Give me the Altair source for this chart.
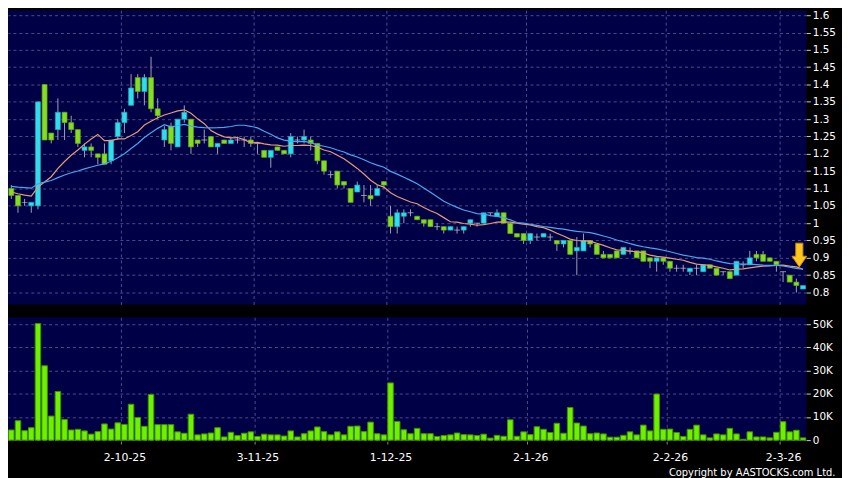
import altair as alt
import pandas as pd

# ---------------- data ----------------
opens = [1.10, 1.08, 1.06, 1.05, 1.05, 1.40, 1.26, 1.27, 1.32, 1.29,
         1.27, 1.21, 1.22, 1.20, 1.20, 1.18, 1.25, 1.29, 1.34, 1.42,
         1.38, 1.42, 1.33, 1.24, 1.28, 1.22, 1.30, 1.30, 1.24, 1.24,
         1.25, 1.22, 1.24, 1.23, 1.24, 1.24, 1.24, 1.23, 1.21, 1.19,
         1.22, 1.21, 1.20, 1.24, 1.24, 1.24, 1.23, 1.18, 1.14, 1.15,
         1.12, 1.10, 1.09, 1.08, 1.08, 1.08, 1.12, 1.02, 0.99, 1.02,
         1.03, 1.02, 1.01, 1.01, 0.99, 0.99, 0.98, 0.98, 0.98, 1.00,
         1.00, 1.00, 1.03, 1.02, 1.03, 1.00, 0.97, 0.97, 0.95, 0.96,
         0.96, 0.96, 0.95, 0.94, 0.95, 0.92, 0.92, 0.95, 0.94, 0.91,
         0.91, 0.92, 0.91, 0.92, 0.92, 0.92, 0.90, 0.89, 0.90, 0.89,
         0.87, 0.87, 0.86, 0.87, 0.86, 0.88, 0.87, 0.86, 0.86, 0.85,
         0.88, 0.88, 0.91, 0.91, 0.90, 0.89, 0.86, 0.85, 0.83, 0.81]
highs = [1.11, 1.08, 1.07, 1.06, 1.35, 1.40, 1.26, 1.36, 1.32, 1.31,
         1.27, 1.23, 1.23, 1.20, 1.23, 1.24, 1.30, 1.33, 1.43, 1.43,
         1.43, 1.48, 1.36, 1.28, 1.29, 1.30, 1.34, 1.30, 1.24, 1.27,
         1.25, 1.23, 1.24, 1.25, 1.25, 1.25, 1.25, 1.23, 1.21, 1.21,
         1.22, 1.21, 1.26, 1.25, 1.27, 1.25, 1.23, 1.18, 1.15, 1.15,
         1.12, 1.10, 1.12, 1.11, 1.11, 1.11, 1.12, 1.05, 1.04, 1.04,
         1.04, 1.02, 1.01, 1.01, 1.00, 0.99, 0.99, 0.99, 0.99, 1.01,
         1.00, 1.03, 1.03, 1.04, 1.03, 1.00, 0.97, 0.97, 0.97, 0.97,
         0.97, 0.97, 0.95, 0.95, 0.95, 0.96, 0.97, 0.95, 0.94, 0.92,
         0.91, 0.92, 0.93, 0.93, 0.92, 0.92, 0.90, 0.90, 0.90, 0.89,
         0.88, 0.88, 0.87, 0.88, 0.88, 0.88, 0.87, 0.86, 0.86, 0.89,
         0.89, 0.92, 0.92, 0.92, 0.90, 0.89, 0.86, 0.85, 0.84, 0.82]
lows = [1.07, 1.03, 1.05, 1.03, 1.04, 1.24, 1.23, 1.24, 1.24, 1.26,
        1.22, 1.19, 1.19, 1.17, 1.17, 1.17, 1.24, 1.26, 1.34, 1.36,
        1.34, 1.32, 1.30, 1.22, 1.21, 1.22, 1.29, 1.20, 1.22, 1.23,
        1.22, 1.20, 1.23, 1.23, 1.23, 1.22, 1.22, 1.20, 1.19, 1.16,
        1.21, 1.20, 1.19, 1.23, 1.23, 1.21, 1.17, 1.14, 1.13, 1.10,
        1.10, 1.06, 1.09, 1.06, 1.05, 1.08, 1.10, 0.97, 0.97, 1.00,
        1.02, 1.01, 0.99, 0.99, 0.98, 0.97, 0.98, 0.97, 0.97, 0.99,
        0.99, 1.00, 1.02, 1.02, 1.00, 0.97, 0.96, 0.94, 0.94, 0.95,
        0.96, 0.95, 0.92, 0.93, 0.91, 0.85, 0.92, 0.93, 0.91, 0.90,
        0.90, 0.90, 0.91, 0.91, 0.90, 0.89, 0.87, 0.86, 0.88, 0.86,
        0.86, 0.86, 0.85, 0.85, 0.86, 0.87, 0.85, 0.85, 0.84, 0.85,
        0.87, 0.88, 0.89, 0.89, 0.89, 0.86, 0.83, 0.83, 0.80, 0.81]
closes = [1.08, 1.05, 1.06, 1.06, 1.35, 1.24, 1.24, 1.32, 1.29, 1.27,
          1.23, 1.22, 1.21, 1.19, 1.17, 1.24, 1.29, 1.32, 1.39, 1.38,
          1.42, 1.33, 1.31, 1.27, 1.23, 1.30, 1.32, 1.22, 1.23, 1.24,
          1.22, 1.23, 1.23, 1.24, 1.24, 1.24, 1.23, 1.23, 1.19, 1.21,
          1.21, 1.20, 1.25, 1.24, 1.25, 1.23, 1.18, 1.15, 1.14, 1.11,
          1.11, 1.06, 1.11, 1.08, 1.07, 1.10, 1.11, 0.99, 1.03, 1.03,
          1.03, 1.01, 1.00, 0.99, 0.99, 0.98, 0.99, 0.98, 0.99, 1.01,
          1.00, 1.03, 1.03, 1.03, 1.00, 0.97, 0.96, 0.95, 0.97, 0.96,
          0.97, 0.96, 0.94, 0.95, 0.91, 0.93, 0.95, 0.94, 0.91, 0.90,
          0.90, 0.90, 0.93, 0.92, 0.90, 0.89, 0.89, 0.90, 0.89, 0.87,
          0.87, 0.87, 0.87, 0.87, 0.88, 0.87, 0.85, 0.86, 0.84, 0.89,
          0.88, 0.90, 0.90, 0.89, 0.89, 0.88, 0.86, 0.83, 0.82, 0.82]
volumes = [4400, 8400, 4100, 5400, 50300, 32100, 10400, 21000, 8900, 4400,
           4700, 4000, 2600, 3700, 7000, 4800, 7500, 6800, 15500, 9800,
           6000, 19700, 6700, 6700, 6700, 3600, 3000, 11200, 2300, 2700,
           3100, 5400, 1400, 3400, 2000, 3000, 3600, 1600, 2600, 2300,
           2300, 1800, 4000, 1400, 2800, 4000, 5700, 3700, 2300, 3600,
           2300, 6000, 6100, 3700, 7800, 2800, 2300, 24700, 8100, 4500,
           2800, 5100, 2800, 2800, 1600, 2000, 2300, 3100, 2400, 2300,
           2000, 2600, 900, 2100, 1700, 8800, 1700, 3600, 2400, 5800,
           4700, 3300, 7300, 3000, 14100, 7400, 6100, 2800, 3100, 2700,
           1300, 1300, 2100, 3600, 2300, 6500, 4000, 19900, 4700, 4800,
           3300, 1600, 4700, 6500, 2300, 1000, 2700, 2300, 5100, 2700,
           400, 3600, 1400, 1400, 1000, 3400, 8000, 3600, 4300, 1000]
# closes of the 19 sessions before the first one shown (estimated from where the averages start)
pre_closes = [1.09, 1.09, 1.09, 1.10, 1.14, 1.15, 1.15, 1.14, 1.14, 1.13,
              1.10, 1.10, 1.09, 1.09, 1.09, 1.09, 1.08, 1.09, 1.09]

first_day = "2025-09-08"
last_day = "2026-03-05"
holidays = ["2025-10-01", "2025-10-07", "2025-10-29", "2025-12-25", "2025-12-26",
            "2026-01-01", "2026-02-17", "2026-02-18", "2026-02-19"]
label_dates = ["2-10-25", "3-11-25", "1-12-25", "2-1-26", "2-2-26", "2-3-26"]
price_ticks = [0.8, 0.85, 0.9, 0.95, 1.0, 1.05, 1.1, 1.15, 1.2, 1.25, 1.3,
               1.35, 1.4, 1.45, 1.5, 1.55, 1.6]
volume_ticks = [0, 10000, 20000, 30000, 40000, 50000]
arrow_date = ["4-3-26"]
arrow_price = [0.908]
copyright_text = "Copyright by AASTOCKS.com Ltd."

# ---------------- build table ----------------
days = [d for d in pd.bdate_range(first_day, last_day)
        if d.strftime("%Y-%m-%d") not in holidays]
dates = [f"{d.day}-{d.month}-{d.strftime('%y')}" for d in days][:len(closes)]

series = pd.Series(pre_closes + closes)
ma10 = series.rolling(10).mean().iloc[len(pre_closes):].round(4).tolist()
ma20 = series.rolling(20).mean().iloc[len(pre_closes):].round(4).tolist()

direction = ["up" if c > o else ("down" if c < o else "flat")
             for o, c in zip(opens, closes)]

df = pd.DataFrame({
    "idx": list(range(len(closes))),
    "date": dates,
    "open": opens, "high": highs, "low": lows, "close": closes,
    "volume": volumes, "ma10": ma10, "ma20": ma20, "dir": direction,
})
arrow_df = pd.DataFrame({"date": arrow_date, "price": arrow_price})

# ---------------- styling ----------------
NAVY = "#000046"
GRID = "#4c4c8c"
CYAN = "#33dcec"
GREEN = "#86dc22"
WICK = "#a0a0b0"
FONT = "DejaVu Sans"

x_scale = alt.Scale(domain=dates, paddingInner=0, paddingOuter=0)
top_x_axis = alt.Axis(values=label_dates, labels=False, ticks=False, domain=False,
                      grid=True, bandPosition=0, title=None)
bottom_x_axis = alt.Axis(values=label_dates, labels=True, ticks=True, tickSize=3,
                         tickOffset=0, tickColor="#888888", domain=False, grid=True,
                         bandPosition=0, labelAngle=0, labelPadding=8,
                         labelFontSize=11, title=None)


def X(axis):
    return alt.X("date:O", scale=x_scale, axis=axis)


price_scale = alt.Scale(domain=[0.7656, 1.6143], nice=False, zero=False)
price_axis = alt.Axis(orient="right", values=price_ticks, format=".2~f", grid=True,
                      domain=False, tickSize=4, tickColor="#cccccc", labelPadding=2,
                      title=None)

W = 806
base = alt.Chart(df)

wicks = base.mark_rule(color=WICK, strokeWidth=1).encode(
    x=X(top_x_axis),
    y=alt.Y("low:Q", scale=price_scale, axis=price_axis),
    y2="high:Q",
)
bodies = base.transform_filter("datum.dir != 'flat'").mark_bar(width=5, strokeWidth=0.7).encode(
    x=X(top_x_axis),
    y=alt.Y("open:Q", scale=price_scale, axis=price_axis),
    y2="close:Q",
    fill=alt.Fill("dir:N", scale=alt.Scale(domain=["up", "down"], range=[CYAN, GREEN]), legend=None),
    stroke=alt.Stroke("dir:N", scale=alt.Scale(domain=["up", "down"], range=["#1fa9b8", "#5fa814"]), legend=None),
)
doji = base.transform_filter("datum.dir == 'flat'").mark_tick(color="#c8c8d0", thickness=1, size=6).encode(
    x=X(top_x_axis),
    y=alt.Y("close:Q", scale=price_scale, axis=price_axis),
)
line10 = base.mark_line(color="#e89a74", strokeWidth=1.2).encode(
    x=X(top_x_axis),
    y=alt.Y("ma10:Q", scale=price_scale, axis=price_axis),
    order="idx:Q",
)
line20 = base.mark_line(color="#4aa6ee", strokeWidth=1.2).encode(
    x=X(top_x_axis),
    y=alt.Y("ma20:Q", scale=price_scale, axis=price_axis),
    order="idx:Q",
)
arrow_path = "M -0.3 -1 L 0.3 -1 L 0.3 0.1 L 0.62 0.1 L 0 1 L -0.62 0.1 L -0.3 0.1 Z"
arrow = alt.Chart(arrow_df).mark_point(
    shape=arrow_path, filled=True, fill="#ffc81e", stroke="#d08a00", strokeWidth=1,
    size=576, opacity=1, xOffset=3,
).encode(
    x=X(top_x_axis),
    y=alt.Y("price:Q", scale=price_scale, axis=price_axis),
)

top = alt.layer(wicks, bodies, doji, line10, line20, arrow).properties(width=W, height=297)

volume_scale = alt.Scale(domain=[-400, 53000], nice=False, zero=False)
volume_axis = alt.Axis(orient="right", values=volume_ticks, grid=True, domain=False,
                       tickSize=4, tickColor="#cccccc", labelPadding=2, title=None,
                       labelExpr="datum.value == 0 ? '0' : (datum.value / 1000) + 'K'")
bottom = base.mark_bar(width=5.6, fill="#6ef000", stroke="#3f9200", strokeWidth=1).encode(
    x=X(bottom_x_axis),
    y=alt.Y("volume:Q", scale=volume_scale, axis=volume_axis),
).properties(width=W, height=125)

chart = alt.vconcat(top, bottom, spacing=13).properties(
    title=alt.TitleParams(copyright_text, orient="bottom", anchor="end", color="white",
                          font=FONT, fontSize=10, fontWeight="normal", offset=5),
    padding={"left": 0, "top": 0, "right": 6, "bottom": 0},
    background="black",
).configure_view(fill=NAVY, strokeWidth=0).configure_axis(
    gridColor=GRID, gridDash=[3, 3], gridWidth=1, gridOpacity=1,
    labelColor="white", labelFont=FONT, labelFontSize=10.5,
)

chart.save("out.html", embed_options={"renderer": "svg", "actions": False})
